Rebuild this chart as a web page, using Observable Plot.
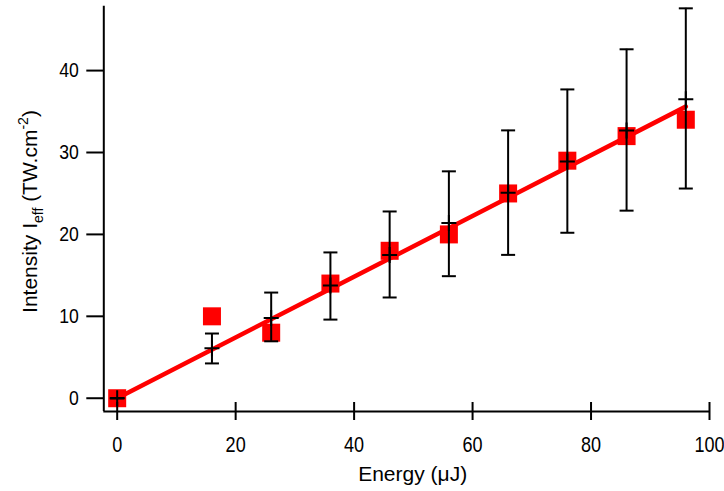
<!DOCTYPE html>
<html>
<head>
<meta charset="utf-8">
<script src="https://cdn.jsdelivr.net/npm/d3@7"></script>
<script src="https://cdn.jsdelivr.net/npm/@observablehq/plot@0.6"></script>
<style>
  html, body { margin: 0; padding: 0; background: #fff; }
  svg { display: block; }
</style>
</head>
<body>
<div id="chart"></div>
<script>
// ---- data ----
const energy     = [0, 16, 26, 36, 46, 56, 66, 76, 86, 96];          // µJ
const intensity  = [0, 10, 8, 14, 18, 20, 25, 29, 32, 34];           // red squares
const center     = [0, 6.1, 9.8, 13.75, 17.5, 21.4, 25.1, 28.9, 32.7, 36.5]; // error-bar centres
const errHigh    = [0, 7.9, 12.9, 17.8, 22.8, 27.7, 32.7, 37.7, 42.6, 47.6];
const errLow     = [0, 4.25, 6.95, 9.6, 12.3, 14.9, 17.5, 20.2, 22.9, 25.6];
const fitEnergy  = [0, 96];
const fitIntens  = [0, 35.6];
const xTicks     = [0, 20, 40, 60, 80, 100];
const yTicks     = [0, 10, 20, 30, 40];
const xDomain    = [-2.26, 100];
const yDomain    = [-1.62, 47.86];

const points = energy.map((e, i) => ({e, v: intensity[i]}));
const errs = energy.map((e, i) => ({e, c: center[i], hi: errHigh[i], lo: errLow[i]}));
const fit = fitEnergy.map((e, i) => ({e, v: fitIntens[i]}));

const capSymbol = {draw(ctx) { ctx.moveTo(-7, 0); ctx.lineTo(7, 0); }};
const plusSymbol = {draw(ctx) { ctx.moveTo(-7.5, 0); ctx.lineTo(7.5, 0); ctx.moveTo(0, -8); ctx.lineTo(0, 8); }};

const font = "'Liberation Sans', Arial, Helvetica, sans-serif";

const chart = Plot.plot({
  width: 724,
  height: 491,
  marginLeft: 103.3,
  marginRight: 15,
  marginTop: 5.7,
  marginBottom: 80,
  x: {domain: xDomain},
  y: {domain: yDomain},
  style: {fontFamily: font, fontSize: "20px", background: "white", color: "black"},
  marks: [
    Plot.line(fit, {x: "e", y: "v", stroke: "#ff0000", strokeWidth: 4.5}),
    Plot.dot(points, {x: "e", y: "v", symbol: "square", r: 10.16, fill: "#ff0000", stroke: "none"}),
    Plot.ruleX(errs, {x: "e", y1: "lo", y2: "hi", stroke: "black", strokeWidth: 2}),
    Plot.dot(errs, {x: "e", y: "hi", symbol: capSymbol, fill: "none", stroke: "black", strokeWidth: 2}),
    Plot.dot(errs, {x: "e", y: "lo", symbol: capSymbol, fill: "none", stroke: "black", strokeWidth: 2}),
    Plot.dot(errs, {x: "e", y: "c", symbol: plusSymbol, fill: "none", stroke: "black", strokeWidth: 2}),
    // axes
    Plot.ruleX([xDomain[0]], {stroke: "black", strokeWidth: 2}),
    Plot.ruleY([yDomain[0]], {stroke: "black", strokeWidth: 2}),
    Plot.ruleX(xTicks, {x: d => d, insetTop: 396.3, insetBottom: -9, stroke: "black", strokeWidth: 2}),
    Plot.axisX({ticks: xTicks, tickSize: 0, tickPadding: 25, label: null, fontSize: 21.5}),
    Plot.axisY({ticks: yTicks, tickSize: 17, tickPadding: 8, label: null, fontSize: 21, strokeWidth: 2}),
    Plot.text(["Energy (μJ)"], {text: d => d, frameAnchor: "bottom", dx: 6, dy: 69, lineAnchor: "bottom", fontSize: 21})
  ]
});

const svg = d3.select(chart);
// condensed look of the tick labels (narrow Helvetica in the reference)
svg.selectAll('g[aria-label="x-axis tick label"] text, g[aria-label="y-axis tick label"] text')
  .attr("transform", function() { return (this.getAttribute("transform") || "") + " scale(0.84,1)"; });

// y-axis title with subscript / superscript
const t = svg.append("text")
  .attr("transform", "translate(37,211.5) rotate(-90)")
  .attr("text-anchor", "middle")
  .attr("font-family", font)
  .attr("font-size", 21)
  .attr("fill", "black");
t.append("tspan").text("Intensity I");
t.append("tspan").attr("font-size", 14).attr("dy", 6).text("eff");
t.append("tspan").attr("dy", -6).text(" (TW.cm");
t.append("tspan").attr("font-size", 14).attr("dy", -9).text("-2");
t.append("tspan").attr("dy", 9).text(")");

document.getElementById("chart").appendChild(chart);
</script>
</body>
</html>
